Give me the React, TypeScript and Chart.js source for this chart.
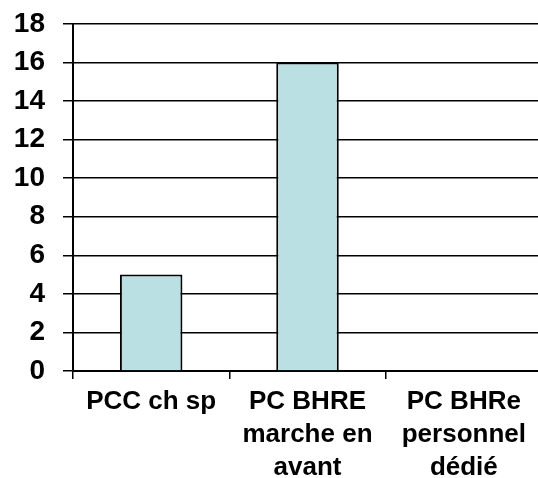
import React, { useEffect, useRef } from "react";
import { Chart, registerables } from "chart.js";

Chart.register(...registerables);

const categories: string[][] = [
  ["PCC ch sp"],
  ["PC BHRE", "marche en", "avant"],
  ["PC BHRe", "personnel", "dédié"],
];
const values: number[] = [5, 16, 0];
const yMin = 0;
const yMax = 18;
const yStep = 2;

const FONT = '"Liberation Sans", Arial, sans-serif';

export default function App() {
  const ref = useRef<HTMLCanvasElement | null>(null);
  useEffect(() => {
    if (!ref.current) return;
    const chart = new Chart(ref.current, {
      type: "bar",
      data: {
        labels: categories,
        datasets: [
          {
            data: values,
            backgroundColor: "#BBE0E3",
            borderColor: "#000000",
            borderWidth: 2,
            barPercentage: 0.4,
            categoryPercentage: 1,
          },
        ],
      },
      options: {
        animation: false,
        responsive: false,
        maintainAspectRatio: false,
        layout: { padding: { left: 0, right: 8, top: 24, bottom: 0 } },
        plugins: { legend: { display: false }, tooltip: { enabled: false } },
        scales: {
          x: {
            offset: true,
            grid: {
              offset: true,
              drawOnChartArea: false,
              drawTicks: true,
              tickLength: 8,
              color: "#000",
              lineWidth: 1.5,
            },
            border: { color: "#000", width: 2 },
            ticks: {
              color: "#000",
              font: { family: FONT, size: 26, weight: "bold", lineHeight: 1.27 },
              maxRotation: 0,
              minRotation: 0,
              autoSkip: false,
              padding: 6,
            },
            afterFit: (s: any) => {
              s.height = 107;
              s.paddingLeft = 0;
              s.paddingRight = 0;
            },
          },
          y: {
            min: yMin,
            max: yMax,
            ticks: {
              stepSize: yStep,
              color: "#000",
              font: { family: FONT, size: 28, weight: "bold" },
              padding: 18,
            },
            grid: {
              color: "#000",
              lineWidth: 1.5,
              drawTicks: true,
              tickLength: 10,
            },
            border: { color: "#000", width: 2 },
            afterFit: (s: any) => {
              s.width = 73;
              s.paddingTop = 0;
              s.paddingBottom = 0;
            },
          },
        },
      },
    });
    return () => chart.destroy();
  }, []);
  return (
    <div
      style={{
        position: "fixed",
        left: 0,
        top: 0,
        width: 538,
        height: 478,
        overflow: "hidden",
        background: "#fff",
      }}
    >
      <canvas ref={ref} width={550} height={478} style={{ width: 550, height: 478 }} />
    </div>
  );
}
